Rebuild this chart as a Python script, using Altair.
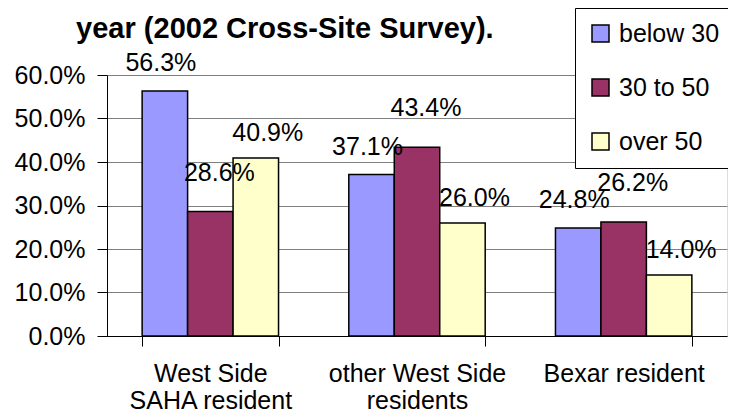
import altair as alt
import pandas as pd

categories = ["West Side SAHA resident", "other West Side residents", "Bexar resident"]
category_lines = [["West Side", "SAHA resident"], ["other West Side", "residents"], ["Bexar resident"]]
series = ["below 30", "30 to 50", "over 50"]
below_30 = [0.563, 0.371, 0.248]
from_30_to_50 = [0.286, 0.434, 0.262]
over_50 = [0.409, 0.260, 0.140]
colors = ["#9999FF", "#993366", "#FFFFCC"]

rows = []
for i, c in enumerate(categories):
    for s, vals in zip(series, [below_30, from_30_to_50, over_50]):
        rows.append({"category": c, "series": s, "value": vals[i]})
df = pd.DataFrame(rows)

label_expr = " : ".join(
    f"datum.label == '{c}' ? {lines}" for c, lines in zip(categories, category_lines)
) + " : datum.label"

FONT = "Liberation Sans"
FS = 25

x = alt.X("category:N", sort=categories, title=None,
          scale=alt.Scale(paddingInner=0.34, paddingOuter=0.17),
          axis=alt.Axis(labelAngle=0, labelExpr=label_expr, labelFontSize=FS,
                        labelFont=FONT, labelColor="#000000", labelPadding=15,
                        labelLineHeight=27, tickBand="extent", tickSize=10,
                        tickColor="#000000", domainColor="#000000", labelBaseline="top"))
xo = alt.XOffset("series:N", sort=series,
                 scale=alt.Scale(paddingInner=0, paddingOuter=0))
y = alt.Y("value:Q", title=None,
          scale=alt.Scale(domain=[0, 0.6], nice=False),
          axis=alt.Axis(format=".1%", values=[0, 0.1, 0.2, 0.3, 0.4, 0.5, 0.6],
                        labelFontSize=FS, labelFont=FONT, labelColor="#000000",
                        labelPadding=12, tickSize=10, tickColor="#000000",
                        domainColor="#000000", gridColor="#808080", grid=True))

bars = alt.Chart(df).mark_bar(stroke="#000000", strokeWidth=1.5).encode(
    x=x, xOffset=xo, y=y,
    color=alt.Color("series:N", sort=series,
                    scale=alt.Scale(domain=series, range=colors),
                    legend=alt.Legend(title=None, orient="none", legendX=468, legendY=-67,
                                      symbolType="square", symbolSize=289,
                                      symbolStrokeColor="#000000", symbolStrokeWidth=1.5,
                                      labelFontSize=FS, labelFont=FONT, labelColor="#000000",
                                      rowPadding=28, padding=13, strokeColor="#000000",
                                      fillColor="#FFFFFF", labelOffset=6)),
)

# label placement style per series (approximating the reference's data-label offsets)
label_style = {"below 30": (-4, -20), "30 to 50": (9, -31), "over 50": (12, -17)}

layers = [bars]
for s in series:
    ddx, ddy = label_style[s]
    layers.append(
        alt.Chart(df).transform_filter(alt.datum.series == s)
        .mark_text(fontSize=FS, font=FONT, color="#000000", dx=ddx, dy=ddy,
                   baseline="alphabetic")
        .encode(
            x=alt.X("category:N", sort=categories),
            xOffset=alt.XOffset("series:N", sort=series,
                                scale=alt.Scale(domain=series, paddingInner=0, paddingOuter=0)),
            y="value:Q",
            text=alt.Text("value:Q", format=".1%"),
        )
    )

chart = alt.layer(*layers).properties(
    width=620, height=261,
    autosize=alt.AutoSizeParams(type="none"),
    padding={"left": 99, "top": 67, "right": 1, "bottom": 76},
    title=alt.TitleParams("year (2002 Cross-Site Survey).", font=FONT, fontSize=29,
                          fontWeight="bold", anchor="start", dx=62, offset=0, dy=65,
                          baseline="bottom", color="#000000"),
).configure_view(stroke="#808080").configure(background="#FFFFFF")

chart.save("out.html", embed_options={"renderer": "svg", "actions": False})
